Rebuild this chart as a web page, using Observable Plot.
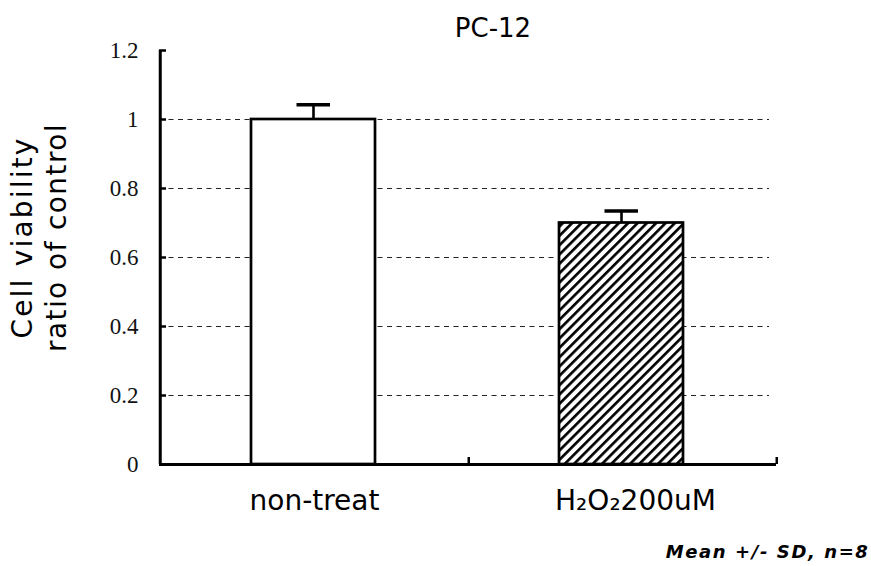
<!DOCTYPE html>
<html>
<head>
<meta charset="utf-8">
<script src="https://cdn.jsdelivr.net/npm/d3@7"></script>
<script src="https://cdn.jsdelivr.net/npm/@observablehq/plot@0.6"></script>
<style>
  html, body { margin: 0; padding: 0; background: #fff; }
</style>
</head>
<body>
<div id="chart"></div>
<script>
const categories = ["non-treat", "H₂O₂200uM"];
const means = [1.0, 0.70];
const sds = [0.043, 0.035];
const yTicks = [0, 0.2, 0.4, 0.6, 0.8, 1.0, 1.2];
const gridTicks = [0.2, 0.4, 0.6, 0.8, 1.0];
const title = "PC-12";
const yLabelLines = ["Cell viability", "ratio of control"];
const caption = "Mean +/- SD, n=8";

const data = categories.map((c, i) => ({cat: c, value: means[i], sd: sds[i]}));

const W = 871, H = 566;
const mL = 159, mR = 95, mT = 50, mB = 102;
const frameW = W - mL - mR;
const frameH = H - mT - mB;
const band = frameW / categories.length;

const defs = () => {
  const d = d3.create("svg:defs");
  const p = d.append("pattern")
    .attr("id", "hatch")
    .attr("patternUnits", "userSpaceOnUse")
    .attr("width", 6.6)
    .attr("height", 10)
    .attr("patternTransform", "rotate(45)");
  p.append("rect").attr("width", 6.6).attr("height", 10).attr("fill", "white");
  p.append("line").attr("x1", 1.3).attr("x2", 1.3).attr("y1", 0).attr("y2", 10)
    .attr("stroke", "black").attr("stroke-width", 2.7);
  return d.node();
};

const chart = Plot.plot({
  width: W,
  height: H,
  marginLeft: mL,
  marginRight: mR,
  marginTop: mT,
  marginBottom: mB,
  style: {fontFamily: "DejaVu Sans", background: "white", color: "black"},
  x: {domain: categories, padding: 0, axis: null, label: null},
  y: {domain: [0, 1.2], axis: null, label: null},
  marks: [
    defs,
    // dashed gridlines
    Plot.ruleY(gridTicks, {y: d => d, insetRight: 7, stroke: "#222", strokeWidth: 1.2, strokeDasharray: "5,4.5"}),
    // bars
    Plot.barY(data.slice(0, 1), {x: "cat", y: "value", fill: "white", stroke: "black", strokeWidth: 2.7, insetLeft: 91, insetRight: 93}),
    Plot.barY(data.slice(1, 2), {x: "cat", y: "value", fill: "url(#hatch)", stroke: "black", strokeWidth: 2.7, insetLeft: 91, insetRight: 93}),
    // error bars
    Plot.ruleX(data, {x: "cat", y1: "value", y2: d => d.value + d.sd, dx: -1, stroke: "black", strokeWidth: 2.6}),
    Plot.tickY(data, {x: "cat", y: d => d.value + d.sd, insetLeft: 136.5, insetRight: 138, stroke: "black", strokeWidth: 3.5}),
    // y axis line
    Plot.ruleX([categories[0]], {x: d => d, dx: -band / 2, stroke: "black", strokeWidth: 3}),
    // y ticks (inward)
    Plot.ruleY(yTicks, {y: d => d, insetRight: frameW - 7, stroke: "black", strokeWidth: 2.5}),
    // x axis baseline
    Plot.ruleY([0], {stroke: "black", strokeWidth: 3}),
    // x boundary ticks (inward)
    Plot.ruleX(categories, {x: d => d, dx: band / 2, insetTop: frameH - 7, stroke: "black", strokeWidth: 2.5}),
    // y tick labels
    Plot.text(yTicks, {y: d => d, text: d => String(d), frameAnchor: "left", textAnchor: "end", lineAnchor: "middle", dx: -21, fontFamily: "'Liberation Serif', 'DejaVu Serif', serif", fontSize: 23, fill: "#111"}),
    // x category labels
    Plot.text(categories.slice(0, 1), {x: d => d, frameAnchor: "bottom", textAnchor: "middle", lineAnchor: "middle", dy: 37, fontSize: 28, fill: "black"}),
    Plot.text(categories.slice(1, 2), {x: d => d, frameAnchor: "bottom", textAnchor: "middle", lineAnchor: "middle", dx: 13, dy: 37, fontSize: 28, fill: "black"}),
    // title
    Plot.text([title], {frameAnchor: "top", textAnchor: "middle", lineAnchor: "middle", dx: 25, dy: -22, fontSize: 26, fill: "black"}),
    // y label (two lines)
    Plot.text([yLabelLines[0]], {frameAnchor: "left", textAnchor: "middle", lineAnchor: "middle", rotate: -90, dx: -136, dy: -20, fontSize: 28, fill: "black"}),
    Plot.text([yLabelLines[1]], {frameAnchor: "left", textAnchor: "middle", lineAnchor: "middle", rotate: -90, dx: -102, dy: -20, fontSize: 28, fill: "black"}),
    // caption
    Plot.text([caption], {frameAnchor: "bottom-right", textAnchor: "end", lineAnchor: "middle", dx: 93, dy: 88, fontSize: 18, fontWeight: "bold", fontStyle: "italic", fill: "black"})
  ]
});

// letter spacing to approximate the wider original typeface
const spacing = new Map([
  [yLabelLines[0], 2.2],
  [yLabelLines[1], 1.4],
  [caption, 1.6]
]);
d3.select(chart).selectAll("text").each(function () {
  const s = spacing.get(this.textContent);
  if (s != null) this.setAttribute("letter-spacing", s);
});

document.getElementById("chart").appendChild(chart);
</script>
</body>
</html>
